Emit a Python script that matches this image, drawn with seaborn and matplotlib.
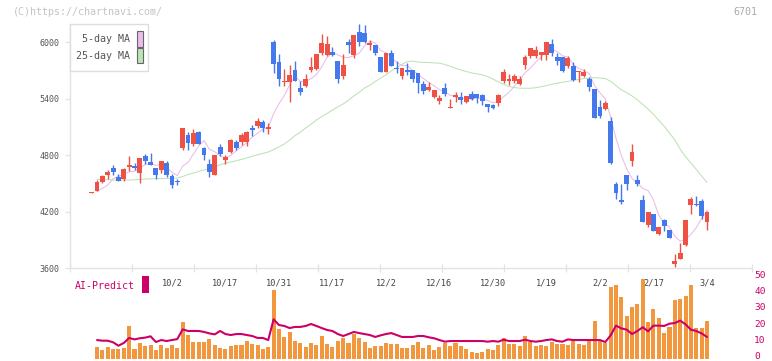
import numpy as np
import pandas as pd
import matplotlib
matplotlib.use("Agg")
import matplotlib.pyplot as plt
import seaborn as sns
from matplotlib.patches import Rectangle
from matplotlib.transforms import blended_transform_factory, ScaledTranslation

nan = np.nan

# ---------------- data ----------------
opens = [4400, 4424, 4516, 4594, 4661, 4569, 4544, 4680, 4690, 4615,
         4792, 4729, 4665, 4640, 4718, 4580, 4522, 4881, 5019, 4916,
         5047, 4877, 4704, 4591, 4888, 4754, 4835, 4938, 4941, 4938,
         5090, 5111, 5157, 5083, 6003, 5791, 5575, 5582, 5706, 5515,
         5540, 5706, 5717, 5886, 5869, 5897, 5798, 5646, 6003, 5869,
         6106, 6095, 5975, 5971, 5844, 5688, 5887, 5727, 5646, 5706,
         5706, 5674, 5557, 5497, 5419, 5380, 5515, 5306, 5416, 5416,
         5370, 5451, 5451, 5437, 5345, 5334, 5356, 5589, 5593, 5593,
         5558, 5763, 5855, 5855, 5865, 5869, 5982, 5844, 5844, 5749,
         5749, 5685, 5646, 5611, 5501, 5313, 5292, 5164, 4492, 4322,
         4587, 4743, 4538, 4322, 4063, 4177, 3964, 4109, 4003, 3649,
         3702, 3847, 4276, 4280, 4315, 4095]
highs = [4415, 4537, 4590, 4644, 4693, 4601, 4665, 4792, 4718, 4771,
         4814, 4828, 4665, 4739, 4739, 4601, 4552, 5090, 5051, 5079,
         5058, 4891, 4757, 4803, 4924, 4807, 4973, 4959, 5037, 5058,
         5122, 5193, 5178, 5140, 6025, 5876, 5717, 5759, 5802, 5589,
         5660, 5844, 5879, 6088, 6071, 5954, 5798, 5879, 6032, 6078,
         6195, 6184, 6025, 5971, 5844, 5887, 5918, 5798, 5727, 5777,
         5706, 5674, 5593, 5578, 5494, 5440, 5568, 5398, 5472, 5472,
         5433, 5483, 5451, 5451, 5345, 5345, 5451, 5713, 5664, 5664,
         5643, 5869, 5936, 5957, 5897, 6000, 6032, 5883, 5844, 5858,
         5788, 5696, 5720, 5635, 5501, 5387, 5377, 5203, 4520, 4495,
         4587, 4920, 4587, 4375, 4198, 4177, 4035, 4123, 4003, 3752,
         3872, 4109, 4354, 4364, 4336, 4212]
lows = [4398, 4420, 4505, 4552, 4587, 4527, 4530, 4637, 4644, 4509,
        4711, 4693, 4552, 4608, 4566, 4456, 4484, 4860, 4860, 4902,
        4920, 4750, 4573, 4591, 4793, 4708, 4821, 4853, 4913, 4899,
        5009, 5086, 5048, 5030, 5678, 5540, 5540, 5370, 5589, 5444,
        5522, 5688, 5706, 5869, 5858, 5851, 5564, 5607, 5890, 5837,
        5964, 5989, 5922, 5862, 5688, 5681, 5752, 5671, 5614, 5649,
        5582, 5465, 5455, 5487, 5405, 5341, 5433, 5299, 5363, 5341,
        5359, 5387, 5352, 5334, 5264, 5292, 5327, 5568, 5547, 5565,
        5547, 5717, 5834, 5834, 5816, 5816, 5855, 5763, 5681, 5727,
        5589, 5579, 5635, 5483, 5200, 5200, 5281, 4704, 4332, 4279,
        4435, 4686, 4477, 4095, 4035, 4000, 3954, 4000, 3918, 3610,
        3702, 3840, 4180, 4262, 4127, 4010]
closes = [4410, 4516, 4580, 4626, 4622, 4530, 4651, 4686, 4665, 4771,
          4739, 4697, 4591, 4739, 4591, 4488, 4515, 5090, 4934, 5037,
          4920, 4806, 4626, 4803, 4817, 4786, 4963, 4874, 5012, 5044,
          5072, 5164, 5094, 5101, 5773, 5610, 5593, 5653, 5589, 5476,
          5610, 5738, 5879, 5993, 5982, 5862, 5614, 5759, 5975, 6078,
          6003, 6003, 5996, 5883, 5688, 5887, 5752, 5720, 5727, 5681,
          5614, 5568, 5487, 5525, 5494, 5409, 5455, 5310, 5440, 5391,
          5426, 5394, 5409, 5373, 5310, 5306, 5441, 5685, 5597, 5643,
          5611, 5844, 5936, 5919, 5897, 6000, 5887, 5802, 5696, 5834,
          5600, 5689, 5685, 5529, 5200, 5217, 5359, 4722, 4396, 4308,
          4499, 4835, 4499, 4095, 4198, 4000, 4035, 4053, 3918, 3677,
          3762, 4109, 4336, 4275, 4159, 4198]
ma25 = [nan, 4545, 4540, 4540, 4538, 4537, 4537, 4537, 4540, 4545,
        4548, 4550, 4552, 4553, 4555, 4556, 4558, 4575, 4595, 4612,
        4628, 4645, 4660, 4678, 4700, 4715, 4728, 4742, 4756, 4772,
        4790, 4806, 4820, 4835, 4860, 4890, 4920, 4960, 5010, 5045,
        5090, 5130, 5175, 5210, 5245, 5280, 5315, 5345, 5385, 5430,
        5470, 5515, 5545, 5585, 5620, 5655, 5695, 5730, 5765, 5795,
        5800, 5790, 5787, 5785, 5782, 5778, 5765, 5745, 5725, 5705,
        5690, 5675, 5665, 5655, 5635, 5610, 5580, 5555, 5530, 5520,
        5513, 5512, 5512, 5518, 5528, 5540, 5555, 5565, 5575, 5585,
        5595, 5605, 5615, 5620, 5625, 5620, 5615, 5585, 5540, 5495,
        5465, 5430, 5390, 5340, 5290, 5235, 5170, 5110, 5035, 4965,
        4865, 4785, 4718, 4650, 4580, 4513]
ma5_head = [nan, 4415, 4450, 4485]
volume = [nan, 7.4, 5.6, 7.4, 6.2, 6.2, 6.8, 20.4, 6.2, 9.9,
          8.0, 8.6, 5.6, 8.6, 6.8, 8.6, 6.8, 22.8, 14.8, 10.5,
          10.5, 10.5, 12.3, 8.6, 6.8, 6.2, 8.0, 8.6, 8.6, 11.1,
          9.3, 8.6, 6.2, 7.4, 42.6, 18.5, 13.6, 16.7, 11.1, 9.9,
          7.4, 9.9, 8.6, 14.2, 9.3, 7.4, 11.1, 13.0, 9.9, 15.4,
          13.0, 10.5, 6.8, 8.0, 8.0, 9.9, 9.3, 9.3, 6.8, 6.8,
          8.6, 10.5, 6.8, 8.6, 5.6, 7.4, 9.9, 8.0, 9.9, 8.0,
          6.2, 4.3, 3.7, 4.3, 6.2, 5.6, 8.6, 13.0, 9.3, 9.3,
          8.0, 14.2, 10.5, 8.0, 8.6, 8.0, 10.5, 9.3, 9.3, 8.6,
          11.1, 9.3, 8.6, 11.7, 23.5, 11.1, 9.9, 44.4, 45.7, 38.3,
          26.5, 32.1, 34.0, 49.4, 22.8, 30.9, 25.3, 16.0, 19.8, 36.4,
          37.0, 38.9, 45.7, 19.1, 19.1, 23.5]
ai_predict = [nan, 11.7, 11.3, 11.3, 10.3, 8.2, 9.9, 13.0, 12.1, 12.8,
              13.2, 14.0, 10.5, 11.7, 11.1, 11.7, 12.3, 18.3, 17.3, 17.3,
              17.3, 16.7, 15.8, 15.2, 17.3, 15.4, 14.8, 15.4, 15.4, 14.8,
              14.2, 13.0, 13.0, 11.7, 24.5, 21.0, 20.4, 19.1, 19.8, 19.8,
              20.4, 21.6, 20.4, 19.1, 17.9, 17.3, 15.4, 14.2, 15.4, 16.7,
              16.0, 15.4, 14.8, 13.6, 14.6, 15.4, 16.0, 14.8, 13.6, 13.6,
              13.6, 14.2, 14.2, 13.4, 12.8, 11.7, 10.7, 11.1, 11.1, 11.1,
              11.1, 11.1, 11.1, 11.1, 10.7, 11.1, 10.7, 11.9, 11.1, 11.1,
              11.1, 11.9, 11.1, 10.7, 11.1, 11.7, 12.1, 11.1, 10.7, 12.1,
              11.7, 11.7, 11.7, 11.7, 11.7, 11.7, 10.5, 14.6, 20.6, 18.9,
              18.1, 15.4, 17.3, 19.6, 17.1, 20.6, 20.6, 20.4, 21.8, 22.2,
              23.7, 21.4, 18.1, 17.3, 15.8, 13.6]
date_labels = ["10/2", "10/17", "10/31", "11/17", "12/2", "12/16",
               "12/30", "1/19", "2/2", "2/17", "3/4"]
date_label_pos = [15, 25, 35, 45, 55, 65, 75, 85, 95, 105, 115]
price_ticks = [3600, 4200, 4800, 5400, 6000]
ai_ticks = [0, 10, 20, 30, 40, 50]

# ---------------- styles ----------------
RED, BLUE = "#ef5244", "#4479ee"
PINK, GREEN = "#ebbbeb", "#bde2b5"
ORANGE, MAGENTA = "#f2973e", "#cc0066"
AXC = "#e2e2e2"
TXT = "#555555"

sns.set_theme(style="white")
plt.rcParams["font.family"] = ["DejaVu Sans Mono", "DejaVu Sans"]

W, H = 772, 361
fig = plt.figure(figsize=(W / 100, H / 100), dpi=100)

def fx(px):
    return px / W

def fy(py):
    return 1 - py / H

ax = fig.add_axes([fx(70), fy(268.3), fx(752) - fx(70), fy(24) - fy(268.3)])
axv = fig.add_axes([fx(70), fy(359), fx(752) - fx(70), fy(278) - fy(359)])

n = len(closes)
idx = np.arange(n)
df = pd.DataFrame({"i": idx, "open": opens, "high": highs, "low": lows,
                   "close": closes, "ma25": ma25, "vol": volume, "ai": ai_predict})
ma5 = df["close"].rolling(5).mean().to_numpy()
ma5[:len(ma5_head)] = ma5_head
df["ma5"] = ma5

# ---------------- candles ----------------
up = df["close"] >= df["open"]
colors = np.where(up, RED, BLUE)
ax.vlines(df["i"], df["low"], df["high"], colors=colors, linewidth=1.0, zorder=2)
body_lo = np.minimum(df["open"], df["close"])
body_h = np.maximum(np.abs(df["close"] - df["open"]), 12)
ax.bar(df["i"], body_h, bottom=body_lo, width=0.9, color=colors, linewidth=0, zorder=3)

sns.lineplot(data=df.dropna(subset=["ma5"]), x="i", y="ma5", ax=ax, color=PINK,
             linewidth=0.75, zorder=1)
sns.lineplot(data=df.dropna(subset=["ma25"]), x="i", y="ma25", ax=ax, color=GREEN,
             linewidth=0.75, zorder=1)

x0 = (70 - 91.7) / 5.35
x1 = (752 - 91.7) / 5.35
ax.set_xlim(x0, x1)
ax.set_ylim(3600, 3600 + (268.3 - 24) * 600 / 56.5)
ax.set_xlabel("")
ax.set_ylabel("")
for s in ["top", "right"]:
    ax.spines[s].set_visible(False)
for s in ["left", "bottom"]:
    ax.spines[s].set_color(AXC)
    ax.spines[s].set_linewidth(1.0)
ax.set_yticks(price_ticks)
ax.set_yticklabels([str(t) for t in price_ticks])
ax.tick_params(axis="y", left=True, length=3.6, width=0.9, color=AXC, pad=4,
               labelsize=6, labelcolor=TXT)
ax.set_xticks(np.linspace(x0, x1, 12))
ax.set_xticklabels([])
ax.tick_params(axis="x", bottom=True, direction="inout", length=6, width=0.9, color=AXC)
ax.grid(False)

# ---------------- volume / AI panel ----------------
dv = df.dropna(subset=["vol"])
sns.barplot(data=dv, x="i", y="vol", ax=axv, native_scale=True, color=ORANGE,
            saturation=1, width=0.75, linewidth=0, zorder=1)
sns.lineplot(data=df.dropna(subset=["ai"]), x="i", y="ai", ax=axv, color=MAGENTA,
             linewidth=1.5, zorder=3)
axv.set_xlim(x0, x1)
axv.set_ylim(0, 50)
axv.set_xlabel("")
axv.set_ylabel("")
for s in axv.spines.values():
    s.set_visible(False)
axv.set_xticks([])
axv.yaxis.tick_right()
axv.set_yticks(ai_ticks)
axv.set_yticklabels([str(t) for t in ai_ticks])
axv.tick_params(axis="y", right=True, length=0, pad=1.5, labelsize=6.8, labelcolor=MAGENTA)
shift = ScaledTranslation(0, 3.5 / 100, fig.dpi_scale_trans)
for lab in axv.get_yticklabels():
    lab.set_transform(lab.get_transform() + shift)
axv.grid(False)
axv.patch.set_alpha(0)

# date labels
tr = blended_transform_factory(ax.transData, fig.transFigure)
for lab, p in zip(date_labels, date_label_pos):
    ax.text(p, fy(283), lab, transform=tr, ha="center", va="center",
            fontsize=6.2, color="#444444", clip_on=False)

# AI-Predict label
fig.text(fx(75), fy(286), "AI-Predict", ha="left", va="center", fontsize=7.1, color=MAGENTA)
fig.patches.append(Rectangle((fx(142), fy(293)), fx(7), fy(276) - fy(293),
                             transform=fig.transFigure, facecolor=MAGENTA,
                             edgecolor="none", figure=fig))

# legend box
fig.patches.append(Rectangle((fx(70), fy(71)), fx(78), fy(24) - fy(71),
                             transform=fig.transFigure, facecolor="white",
                             edgecolor="#dddddd", linewidth=1.0, figure=fig, zorder=5))
fig.text(fx(129.5), fy(39), "5-day MA", ha="right", va="center", fontsize=7.2,
         color=TXT, zorder=6)
fig.text(fx(129.5), fy(56), "25-day MA", ha="right", va="center", fontsize=7.2,
         color=TXT, zorder=6)
fig.patches.append(Rectangle((fx(136.5), fy(46.5)), fx(6), fy(31.5) - fy(46.5),
                             transform=fig.transFigure, facecolor=PINK,
                             edgecolor="#666666", linewidth=0.8, figure=fig, zorder=6))
fig.patches.append(Rectangle((fx(136.5), fy(63)), fx(6), fy(48.5) - fy(63),
                             transform=fig.transFigure, facecolor=GREEN,
                             edgecolor="#666666", linewidth=0.8, figure=fig, zorder=6))

# header texts
fig.text(fx(13), fy(12), "(C)https://chartnavi.com/", ha="left", va="center",
         fontsize=7.2, color="#c4c4c4")
fig.text(fx(757), fy(12), "6701", ha="right", va="center", fontsize=7.2, color="#aaaaaa")

fig.savefig("out.png", dpi=100)
